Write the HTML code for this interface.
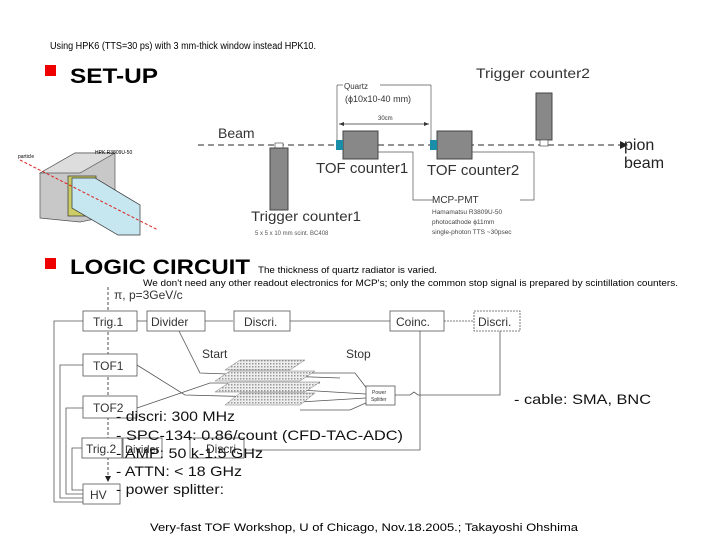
<!DOCTYPE html>
<html><head><meta charset="utf-8"><style>
html,body{margin:0;padding:0;background:#fff}
svg{display:block}
text{font-family:"Liberation Sans",sans-serif}
</style></head><body>
<svg width="720" height="540" viewBox="0 0 720 540" xmlns="http://www.w3.org/2000/svg">
<defs>
<pattern id="dots" width="3" height="3" patternUnits="userSpaceOnUse"><rect width="3" height="3" fill="#eee"/><rect width="1.5" height="1.5" fill="#999"/></pattern>
</defs>
<text x="50" y="49" font-size="10" textLength="266" lengthAdjust="spacingAndGlyphs">Using HPK6 (TTS=30 ps) with 3 mm-thick window  instead HPK10.</text>
<rect x="45" y="65" width="11" height="11" fill="#e00"/>
<text x="70" y="83" font-size="21" font-weight="bold" textLength="88" lengthAdjust="spacingAndGlyphs">SET-UP</text>
<rect x="45" y="258" width="11" height="11" fill="#e00"/>
<text x="70" y="274" font-size="21" font-weight="bold" textLength="180" lengthAdjust="spacingAndGlyphs">LOGIC CIRCUIT</text>
<text x="258" y="273" font-size="9" textLength="179" lengthAdjust="spacingAndGlyphs">The thickness of quartz radiator is varied.</text>
<text x="143" y="286" font-size="9" textLength="535" lengthAdjust="spacingAndGlyphs">We don't need any other readout electronics for MCP's; only the common stop signal is prepared by scintillation counters.</text>

<!-- 3D image -->
<g>
<polygon points="40,173 75,153 115,153 115,215 80,222 40,218" fill="#c8c8c8" stroke="#555" stroke-width="0.7"/>
<polygon points="40,173 75,153 115,153 80,173" fill="#ddd" stroke="#555" stroke-width="0.7"/>
<rect x="68" y="176" width="28" height="40" fill="#cccc66" stroke="#333" stroke-width="0.7"/>
<polygon points="72,178 95,178 140,205 140,235 118,235 72,208" fill="#c6e6f0" stroke="#333" stroke-width="0.7"/>
<line x1="20" y1="160" x2="158" y2="230" stroke="#d22" stroke-width="1" stroke-dasharray="3,2"/>
<text x="18" y="158" font-size="5">particle</text>
<text x="95" y="154" font-size="5">HPK R3809U-50</text>
</g>

<!-- beam line -->
<line x1="198" y1="145" x2="620" y2="145" stroke="#555" stroke-width="1.2" stroke-dasharray="6,4"/>
<polygon points="620,141 628,145 620,149" fill="#222"/>
<text x="218" y="138" font-size="14" fill="#333">Beam</text>
<text x="624" y="150" font-size="16" fill="#222">pion</text>
<text x="624" y="168" font-size="16" fill="#222">beam</text>
<rect x="275" y="143" width="8" height="5" fill="#fff" stroke="#555" stroke-width="0.7"/>
<rect x="270" y="148" width="18" height="62" fill="#888" stroke="#444"/>
<text x="251" y="221" font-size="14" fill="#333" textLength="110" lengthAdjust="spacingAndGlyphs">Trigger counter1</text>
<text x="255" y="235" font-size="6" fill="#555">5 x 5 x 10 mm scint. BC408</text>

<line x1="337" y1="85" x2="337" y2="140" stroke="#555" stroke-width="0.7"/>
<line x1="337" y1="85" x2="343" y2="85" stroke="#555" stroke-width="0.7"/>
<line x1="380" y1="85" x2="431" y2="85" stroke="#555" stroke-width="0.7"/>
<line x1="431" y1="85" x2="431" y2="140" stroke="#555" stroke-width="0.7"/>
<text x="344" y="89" font-size="8" fill="#333">Quartz</text>
<text x="345" y="102" font-size="9" fill="#333">(ϕ10x10-40 mm)</text>
<text x="378" y="120" font-size="6" fill="#333">30cm</text>
<line x1="339" y1="124" x2="429" y2="124" stroke="#333" stroke-width="0.7"/>
<polygon points="339,124 344,122 344,126" fill="#333"/>
<polygon points="429,124 424,122 424,126" fill="#333"/>

<rect x="343" y="131" width="35" height="28" fill="#888" stroke="#444"/>
<rect x="336" y="140" width="7" height="10" fill="#1a8ea8"/>
<rect x="437" y="131" width="35" height="28" fill="#888" stroke="#444"/>
<rect x="430" y="140" width="7" height="10" fill="#1a8ea8"/>
<text x="316" y="173" font-size="15" fill="#333">TOF counter1</text>
<text x="427" y="175" font-size="15" fill="#333">TOF counter2</text>
<polyline points="378,152 413,152 413,200 433,200" fill="none" stroke="#555" stroke-width="0.7"/>
<polyline points="472,152 534,152 534,200 520,200" fill="none" stroke="#555" stroke-width="0.7"/>
<text x="432" y="203" font-size="10" fill="#333">MCP-PMT</text>
<text x="432" y="214" font-size="6.5" fill="#444">Hamamatsu R3809U-50</text>
<text x="432" y="224" font-size="6.5" fill="#444">photocathode ϕ11mm</text>
<text x="432" y="234" font-size="6.5" fill="#444">single-photon TTS ~30psec</text>
<rect x="536" y="93" width="16" height="47" fill="#888" stroke="#444"/>
<rect x="540" y="140" width="8" height="6" fill="#fff" stroke="#555" stroke-width="0.7"/>
<text x="476" y="78" font-size="14" fill="#333" textLength="114" lengthAdjust="spacingAndGlyphs">Trigger counter2</text>

<!-- logic circuit -->
<g stroke="#555" stroke-width="0.8" fill="none">
<line x1="108" y1="287" x2="108" y2="480" stroke-dasharray="3,2" stroke="#222"/>
<line x1="137" y1="321" x2="147" y2="321"/>
<line x1="205" y1="321" x2="233" y2="321"/>
<line x1="290" y1="321" x2="390" y2="321"/>
<line x1="444" y1="321" x2="474" y2="321" stroke-dasharray="2,1"/>
<polyline points="179,331 200,373 340,378"/>
<polyline points="137,365 185,395 300,398"/>
<polyline points="137,408 210,383 320,383"/>
<polyline points="300,373 355,373 368,390"/>
<polyline points="300,390 366,394"/>
<polyline points="300,402 366,398"/>
<polyline points="300,410 350,410 368,402"/>
<polyline points="395,395 410,395 414,392 418,395 500,395 500,331"/>
<polyline points="420,331 420,450 244,450"/>
<polyline points="83,321 54,321 54,502 83,502"/>
<polyline points="83,365 60,365 60,498 83,498"/>
<polyline points="83,408 66,408 66,494 83,494"/>
<polyline points="82,448 72,448 72,490 83,490"/>
</g>
<polygon points="108,482 105,476 111,476" fill="#222"/>
<g fill="url(#dots)" stroke="#777" stroke-width="0.5">
<polygon points="225,370 240,360 305,360 290,370"/>
<polygon points="215,381 230,371 315,371 300,381"/>
<polygon points="215,392 230,382 320,382 305,392"/>
<polygon points="225,405 240,393 315,393 300,405"/>
</g>
<g fill="#fff" stroke="#555" stroke-width="0.8">
<rect x="83" y="311" width="54" height="20"/>
<rect x="147" y="311" width="58" height="20"/>
<rect x="234" y="311" width="56" height="20"/>
<rect x="390" y="311" width="54" height="20"/>
<rect x="474" y="311" width="46" height="20" stroke-dasharray="2,1"/>
<rect x="83" y="354" width="54" height="22"/>
<rect x="83" y="396" width="54" height="22"/>
<rect x="82" y="438" width="40" height="20"/>
<rect x="123" y="438" width="39" height="20"/>
<rect x="190" y="438" width="54" height="20"/>
<rect x="83" y="484" width="37" height="20"/>
<rect x="366" y="386" width="29" height="19"/>
</g>
<g font-size="12" fill="#333">
<text x="93" y="326">Trig.1</text>
<text x="151" y="326">Divider</text>
<text x="244" y="326">Discri.</text>
<text x="396" y="326">Coinc.</text>
<text x="478" y="326">Discri.</text>
<text x="93" y="370">TOF1</text>
<text x="93" y="412">TOF2</text>
<text x="86" y="453">Trig.2</text>
<text x="125" y="453" font-size="11">Divider</text>
<text x="206" y="453">Discri.</text>
<text x="90" y="499">HV</text>
<text x="202" y="358">Start</text>
<text x="346" y="358">Stop</text>
<text x="114" y="299">π, p=3GeV/c</text>
</g>
<text x="372" y="394" font-size="5" fill="#333">Power</text>
<text x="371" y="401" font-size="5" fill="#333">Splitter</text>
<g font-size="14" fill="#111">
<text x="116" y="421" textLength="119" lengthAdjust="spacingAndGlyphs">- discri: 300 MHz</text>
<text x="116" y="440" textLength="287" lengthAdjust="spacingAndGlyphs">- SPC-134: 0.86/count  (CFD-TAC-ADC)</text>
<text x="116" y="458" textLength="147" lengthAdjust="spacingAndGlyphs">- AMP: 50 k-1.5 GHz</text>
<text x="116" y="476" textLength="126" lengthAdjust="spacingAndGlyphs">- ATTN: &lt; 18 GHz</text>
<text x="116" y="494" textLength="108" lengthAdjust="spacingAndGlyphs">- power splitter:</text>
<text x="514" y="404" textLength="137" lengthAdjust="spacingAndGlyphs">- cable: SMA, BNC</text>
</g>
<text x="150" y="531" font-size="11" textLength="428" lengthAdjust="spacingAndGlyphs">Very-fast TOF Workshop,  U of Chicago,    Nov.18.2005.;  Takayoshi Ohshima</text>
</svg>
</body></html>
